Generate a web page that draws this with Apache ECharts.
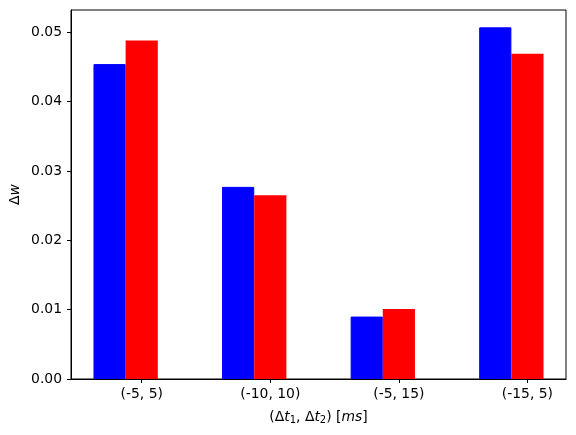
<!DOCTYPE html>
<html>
<head>
    <meta charset="utf-8">
    <script src="https://cdn.jsdelivr.net/npm/echarts@6/dist/echarts.min.js"></script>
    <title>Delta w bars</title>
    <style>
        body { margin: 0; background: #fff; }
    </style>
</head>
<body>
    <div id="main" style="width: 576px;height:435px;"></div>
    <script type="text/javascript">
        // pairs of (dt1, dt2)
        var categories = ['(-5, 5)', '(-10, 10)', '(-5, 15)', '(-15, 5)'];
        var blueValues = [0.0454, 0.0277, 0.0090, 0.0507];
        var redValues = [0.0488, 0.0265, 0.0101, 0.0469];
        var yTicks = [0, 0.01, 0.02, 0.03, 0.04, 0.05];

        // blue sits a quarter unit left of the tick, red is centred on it
        var blueData = blueValues.map(function (v, i) { return [i - 0.25, v]; });
        var redData = redValues.map(function (v, i) { return [i, v]; });

        var font = 'DejaVu Sans';
        var fs = 13.9;
        var myChart = echarts.init(document.getElementById('main'));

        var option = {
            animation: false,
            grid: {
                left: 71, right: 10, top: 10, bottom: 56,
                show: true, borderColor: '#000', borderWidth: 1,
                containLabel: false,
                outerBoundsMode: 'none'
            },
            xAxis: {
                type: 'value',
                min: -0.55,
                max: 3.3,
                splitLine: { show: false },
                axisLine: { show: true, onZero: false, lineStyle: { color: '#000', width: 1 } },
                axisTick: { show: true, length: 4, lineStyle: { color: '#000' }, customValues: [0, 1, 2, 3] },
                axisLabel: {
                    customValues: [0, 1, 2, 3],
                    color: '#000', fontFamily: font, fontSize: fs, margin: 8,
                    formatter: function (v) { return categories[Math.round(v)]; }
                },
                name: '(Δ{i|t}{s|1}, Δ{i|t}{s|2}) [{i|ms}]',
                nameLocation: 'middle',
                nameGap: 30,
                nameTextStyle: {
                    color: '#000', fontFamily: font, fontSize: fs,
                    rich: {
                        i: { fontStyle: 'italic', fontFamily: font, fontSize: fs, color: '#000' },
                        s: { fontFamily: font, fontSize: 10, color: '#000', verticalAlign: 'bottom', padding: [6, 0, 0, 0] }
                    }
                }
            },
            yAxis: {
                type: 'value',
                min: 0,
                max: 0.0532,
                interval: 0.01,
                splitLine: { show: false },
                axisLine: { show: true, onZero: false, lineStyle: { color: '#000', width: 1 } },
                axisTick: { show: true, length: 4, lineStyle: { color: '#000' }, customValues: yTicks },
                axisLabel: {
                    customValues: yTicks,
                    color: '#000', fontFamily: font, fontSize: fs, margin: 9,
                    formatter: function (v) { return v.toFixed(2); }
                },
                name: 'Δ{i|w}',
                nameLocation: 'middle',
                nameGap: 49,
                nameMoveOverlap: false,
                nameRotate: 90,
                nameTextStyle: {
                    color: '#000', fontFamily: font, fontSize: fs,
                    rich: {
                        i: { fontStyle: 'italic', fontFamily: font, fontSize: fs, color: '#000' }
                    }
                }
            },
            series: [{
                type: 'bar',
                data: blueData,
                barWidth: 32.2,
                barGap: '-100%',
                itemStyle: { color: '#0000ff', borderColor: '#0000ff', borderWidth: 1 }
            }, {
                type: 'bar',
                data: redData,
                barWidth: 32.2,
                barGap: '-100%',
                itemStyle: { color: '#ff0000', borderWidth: 0 }
            }]
        };
        myChart.setOption(option);
    </script>
</body>
</html>
